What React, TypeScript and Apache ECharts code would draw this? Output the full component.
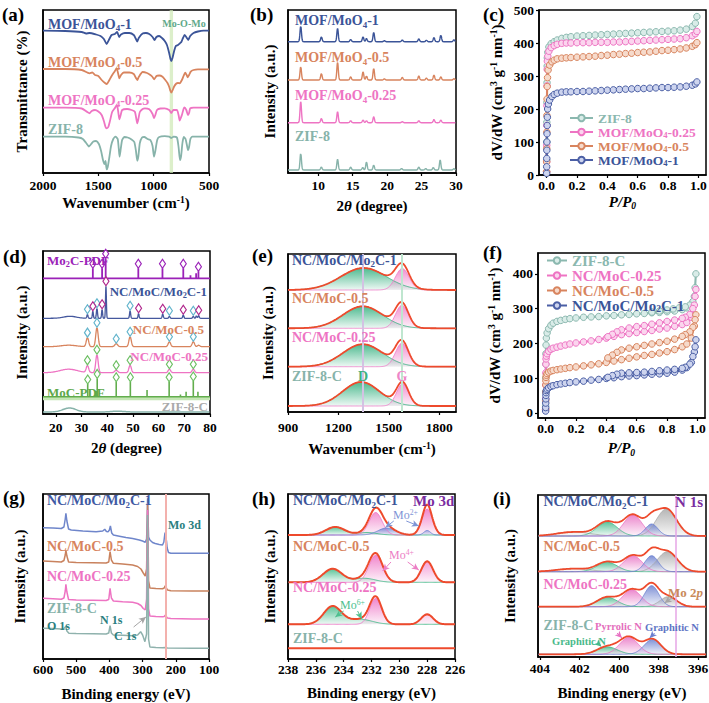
import React, { useEffect, useRef } from 'react';
import * as echarts from 'echarts';

const FONT = '"Liberation Serif", "Times New Roman", Times, serif';

const BLUE = '#3b5498';
const ORANGE = '#d8845e';
const PINK = '#ee74c3';
const TEAL = '#87b3aa';

// ---------------- (a) FTIR  [wavenumber, offset transmittance]
const ftir_MoO4_1 = [[2000,142.3],[1800,142],[1650,141],[1610,139.5],[1580,140],[1520,138.5],[1480,137],[1450,134],[1425,129],[1405,133],[1380,138],[1350,139],[1330,141],[1312,136],[1295,138.5],[1260,140],[1220,140],[1180,138],[1160,134],[1148,131.5],[1135,135],[1100,139.5],[1070,140],[1040,139],[1010,136],[992,133],[975,136],[950,137],[925,135],[900,132],[880,128],[860,120],[848,114],[840,112],[830,115],[815,122],[800,127],[780,128],[765,129.5],[750,131],[735,135],[720,138],[700,135],[688,133],[670,137],[640,140],[600,141.5],[550,142.3],[500,142.3]];
const ftir_MoO4_05 = [[2000,104],[1800,104],[1650,103],[1600,100.5],[1580,99.7],[1555,100.5],[1530,98],[1500,97],[1470,93],[1440,90],[1422,89],[1405,92],[1380,97],[1350,102],[1335,104.7],[1322,100],[1310,94.7],[1295,98],[1270,100.5],[1220,100.5],[1180,99],[1160,95],[1148,93],[1135,96],[1100,101],[1060,100],[1030,98],[1010,96],[995,93.7],[975,97],[950,97.5],[920,96.3],[895,93],[875,90],[860,86.3],[848,82],[840,80.3],[828,83],[815,86.5],[795,89.5],[780,90],[765,89.7],[745,93],[730,97],[715,100.3],[702,98],[692,95.7],[680,98],[665,101.3],[640,103],[600,103.7],[500,103.7]];
const ftir_MoO4_025 = [[2000,65.3],[1800,65.3],[1650,64.5],[1600,61],[1580,59.7],[1560,62],[1530,63],[1500,61.5],[1470,58],[1450,52],[1435,46],[1425,44.7],[1410,46],[1395,52],[1375,61],[1350,65],[1332,68],[1320,61],[1310,53.7],[1298,58],[1285,63],[1240,64],[1200,63],[1170,61.3],[1158,55],[1148,49.7],[1138,54],[1125,61],[1100,64],[1080,64.7],[1040,63.7],[1010,59],[997,54.7],[985,58],[970,63],[940,64.5],[900,64.7],[860,63],[840,60],[822,63],[790,63],[775,58],[765,52.3],[755,55],[745,58],[730,64],[722,65.7],[705,63],[690,58],[680,60],[670,64.7],[640,65.3],[500,65.3]];
const ftir_ZIF8 = [[2000,36.3],[1800,36.3],[1680,35.5],[1640,34],[1610,30],[1585,26.5],[1565,29],[1545,31.5],[1520,32],[1495,29],[1475,22],[1458,13],[1445,9],[1435,12],[1425,3.7],[1415,6],[1400,16],[1385,27],[1365,34],[1345,36.3],[1325,34],[1315,24],[1308,16.3],[1300,22],[1285,33],[1265,36],[1235,35.5],[1200,33.5],[1175,31],[1160,22],[1148,12.3],[1138,17],[1125,30],[1105,35.5],[1085,36],[1055,34],[1030,33],[1010,27],[997,16.3],[985,22],[968,33],[950,36],[900,36.8],[860,36.3],[840,35],[820,36.3],[790,35.5],[775,26],[762,13],[752,17],[740,30],[728,36],[712,34],[698,27],[690,23],[680,26],[668,34],[650,36.3],[600,36.3],[500,36.3]];
const ftir_MoOMo_band = [825, 855];

// ---------------- (b) XRD of precursors: peaks [2theta, height]
const xrdB_MoO4_1 = [[7.45,15.7],[10.45,5],[12.8,13.3],[14.7,2.3],[16.5,5],[17.0,3.3],[18.05,9.3],[19.6,1],[22.2,1.7],[24.6,3],[25.7,1.5],[26.8,4.3],[27.8,6.7],[29.7,2]];
const xrdB_MoO4_05 = [[7.45,13.3],[10.45,6.7],[12.8,17.7],[14.7,3.3],[16.5,8.3],[17.0,4],[18.05,11.7],[19.6,1.2],[22.2,2.7],[24.6,4],[25.7,2],[26.8,5],[27.8,3.3],[29.7,1.5]];
const xrdB_MoO4_025 = [[7.45,21],[10.45,4.3],[12.8,11],[14.7,2],[16.5,2.7],[17.0,2],[18.05,6],[22.2,1],[24.6,2],[26.8,3.3],[27.8,2.7]];
const xrdB_ZIF8 = [[7.45,16.7],[10.45,3],[12.8,10.7],[14.7,3],[16.45,2.5],[17.0,8],[18.05,5],[22.1,1.5],[24.6,3],[25.6,1.5],[26.7,2.5],[27.7,10],[29.7,1.5]];
const xrdB_offsets = [131.3, 93, 50.3, 3];

// ---------------- (c) isotherms [P/P0, value]
const isoC_ZIF8 = [[0.0003,10],[0.0006,45],[0.001,100],[0.0015,160],[0.002,220],[0.003,280],[0.004,330],[0.005,355],[0.008,372],[0.015,388],[0.03,398],[0.05,404],[0.07,409],[0.1,414],[0.13,417],[0.16,419],[0.2,421],[0.24,422],[0.28,423],[0.32,424],[0.36,425],[0.4,426],[0.44,427],[0.48,428],[0.52,429],[0.56,430],[0.6,431],[0.64,432],[0.68,433],[0.72,434],[0.76,435],[0.8,436],[0.84,437],[0.88,439],[0.92,442],[0.96,450],[0.98,460],[0.99,480]];
const isoC_MoO4_025 = [[0.0003,10],[0.0006,40],[0.001,90],[0.0015,150],[0.002,210],[0.003,270],[0.004,320],[0.005,345],[0.008,360],[0.015,375],[0.03,386],[0.05,392],[0.07,396],[0.1,399],[0.13,400],[0.16,400],[0.2,401],[0.24,401],[0.28,401],[0.32,402],[0.36,402],[0.4,402],[0.44,403],[0.48,403],[0.52,404],[0.56,405],[0.6,406],[0.64,407],[0.68,408],[0.72,409],[0.76,410],[0.8,411],[0.84,412],[0.88,413],[0.92,416],[0.96,422],[0.98,428],[0.99,435]];
const isoC_MoO4_05 = [[0.0003,10],[0.0006,40],[0.001,80],[0.0015,130],[0.002,180],[0.003,230],[0.004,268],[0.006,295],[0.01,318],[0.02,333],[0.035,343],[0.05,348],[0.07,352],[0.1,354],[0.13,355],[0.16,356],[0.2,357],[0.24,358],[0.28,359],[0.32,360],[0.36,362],[0.4,363],[0.44,365],[0.48,366],[0.52,368],[0.56,369],[0.6,371],[0.64,372],[0.68,373],[0.72,375],[0.76,377],[0.8,378],[0.84,380],[0.88,382],[0.92,385],[0.96,390],[0.98,395],[0.99,401]];
const isoC_MoO4_1 = [[0.0003,5],[0.0006,25],[0.001,50],[0.0015,75],[0.002,100],[0.003,125],[0.004,150],[0.005,175],[0.007,200],[0.012,215],[0.02,227],[0.035,238],[0.05,244],[0.07,248],[0.1,251],[0.13,252],[0.16,252],[0.2,253],[0.24,253],[0.28,254],[0.32,255],[0.36,256],[0.4,257],[0.44,258],[0.48,259],[0.52,260],[0.56,261],[0.6,262],[0.64,262],[0.68,263],[0.72,264],[0.76,265],[0.8,265],[0.84,266],[0.88,267],[0.92,269],[0.96,272],[0.98,276],[0.99,282]];

// ---------------- (d) XRD of carbides
const xrdD_Mo2C_PDF = [[34.4,10],[38.0,10],[39.4,20],[52.1,10],[61.5,10],[69.6,10],[72.4,3],[74.6,5],[75.5,7]];
const xrdD_Mo2C_PDF_marks = [34.4,38.0,39.4,52.1,61.5,69.6,75.5];
const xrdD_MoC_PDF = [[32.4,12.7],[35.5,5.7],[36.1,18.3],[43.5,15],[49.0,15],[55.5,6.7],[64.1,15],[68.5,2.3],[70.7,5],[73.5,15.7],[75.3,5]];
const xrdD_MoC_PDF_marks = [32.4,36.1,43.5,49.0,64.1,73.5];
// peaks [2theta, height, fwhm]
const xrdD_Mo2C1 = [[25.5,2,6],[32.3,4,0.5],[34.4,7,0.45],[36.0,10,0.5],[38.0,9,0.45],[39.5,32,0.4],[48.9,7.5,0.5],[52.2,5,0.45],[61.6,4.5,0.5],[64.2,2.5,0.5],[69.6,3.5,0.5],[73.5,2.5,0.5],[74.7,2.5,0.5],[75.6,3,0.5]];
const xrdD_Mo2C1_MoC_marks = [32.3,36.0,48.9,64.2,73.5];
const xrdD_Mo2C1_Mo2C_marks = [34.4,38.0,39.5,52.2,61.6,69.6,75.6];
const xrdD_MoC05 = [[25,1.5,7],[32.3,9,1.1],[36.0,19,1.1],[43.5,3,1.3],[48.9,10,1.1],[64.2,5,1.1],[73.5,5,1.1],[75.6,1.5,1]];
const xrdD_MoC025 = [[25,3.5,8],[32.3,7,1.1],[36.0,18,1.1],[43.5,2.5,1.3],[48.9,7.5,1.1],[64.2,3.5,1.1],[73.5,3.5,1.1]];
const xrdD_MoC_marks = [32.3,36.0,43.5,48.9,64.2,73.5];
const xrdD_ZIF8C = [[25.3,4,6],[44,0.8,6]];
const xrdD_offsets = { mo2cPdf: 135.7, mo2c1: 95.7, moc05: 67.3, moc025: 41.3, mocPdf: 17.3, zif8c: 2 };

// ---------------- (e) Raman fitted bands [center, height, fwhm]: D, G
const raman_Mo2C1 = [[1350,22,320],[1580,21.5,95]];
const raman_MoC05 = [[1345,22,280],[1578,23,90]];
const raman_MoC025 = [[1345,22.5,280],[1578,23.5,90]];
const raman_ZIF8C = [[1335,24,260],[1582,22.3,85]];
const raman_offsets = [122, 83.7, 45.3, 6];
const raman_DG = [1345, 1580];

// ---------------- (f) isotherms with hysteresis [P/P0, value]
const isoF_ZIF8C = [[0.0003,20],[0.0006,60],[0.001,100],[0.0015,140],[0.002,170],[0.003,195],[0.005,215],[0.01,230],[0.02,242],[0.035,252],[0.05,258],[0.075,263],[0.1,266],[0.13,269],[0.16,271],[0.2,273],[0.25,275],[0.3,276],[0.35,277],[0.4,279],[0.45,280],[0.5,282],[0.55,283],[0.6,285],[0.65,286],[0.7,288],[0.75,289],[0.8,291],[0.85,293],[0.9,297],[0.93,302],[0.96,312],[0.98,335],[0.99,400],[0.985,360],[0.97,320],[0.95,310],[0.92,305],[0.88,302],[0.84,299],[0.8,296],[0.75,293],[0.7,290]];
const isoF_MoC025 = [[0.0003,10],[0.0006,40],[0.001,80],[0.0015,115],[0.002,140],[0.003,155],[0.005,163],[0.01,170],[0.02,177],[0.035,183],[0.05,186],[0.075,189],[0.1,192],[0.13,195],[0.16,198],[0.2,201],[0.25,204],[0.3,207],[0.35,211],[0.4,215],[0.45,220],[0.5,225],[0.55,228],[0.6,231],[0.65,234],[0.7,237],[0.75,241],[0.8,244],[0.85,249],[0.9,254],[0.93,260],[0.96,275],[0.98,310],[0.99,355],[0.985,335],[0.97,300],[0.95,283],[0.92,275],[0.9,272],[0.85,267],[0.8,263],[0.75,259],[0.7,255],[0.65,251],[0.6,248],[0.55,244],[0.5,239],[0.47,233],[0.44,226],[0.41,219]];
const isoF_MoC05 = [[0.0003,10],[0.0006,35],[0.001,60],[0.0015,80],[0.002,92],[0.003,102],[0.005,108],[0.01,113],[0.02,117],[0.035,120],[0.05,122],[0.075,124],[0.1,126],[0.13,128],[0.16,130],[0.2,132],[0.25,135],[0.3,138],[0.35,141],[0.4,145],[0.45,149],[0.5,153],[0.55,157],[0.6,161],[0.65,165],[0.7,168],[0.75,172],[0.8,176],[0.85,182],[0.9,190],[0.93,198],[0.96,215],[0.98,250],[0.99,282],[0.985,268],[0.97,246],[0.95,233],[0.92,225],[0.9,220],[0.85,212],[0.8,206],[0.75,202],[0.7,198],[0.65,194],[0.6,190],[0.55,186],[0.5,181],[0.47,174],[0.44,166],[0.41,158]];
const isoF_Mo2C1 = [[0.0003,5],[0.0006,15],[0.001,28],[0.0015,40],[0.002,50],[0.003,58],[0.005,64],[0.01,68],[0.02,72],[0.035,76],[0.05,78],[0.075,81],[0.1,83],[0.13,85],[0.16,87],[0.2,89],[0.25,91],[0.3,94],[0.35,96],[0.4,99],[0.45,101],[0.5,104],[0.55,106],[0.6,107],[0.65,109],[0.7,111],[0.75,112],[0.8,114],[0.85,117],[0.9,123],[0.93,130],[0.96,145],[0.98,175],[0.99,210],[0.985,190],[0.97,162],[0.95,140],[0.92,131],[0.9,128],[0.85,125],[0.8,123],[0.75,121],[0.7,119],[0.65,117],[0.6,116],[0.55,115],[0.5,114],[0.47,111],[0.44,107],[0.41,102]];

// ---------------- (g) XPS survey [binding energy, offset intensity]
const survey_Mo2C1 = [[600,131.3],[570,131],[545,130.5],[537,132],[533,140],[531,145.7],[528,138],[523,130],[515,129],[480,128],[440,127.3],[420,128],[414,129.7],[409,127.5],[404,127.3],[400,129],[397,133],[393,126],[388,124],[370,122.8],[350,121.5],[330,120.5],[310,119],[300,118],[292,116.7],[288,120],[286,140],[285,160.7],[283.5,140],[282,122],[278,119],[270,116.5],[262,115.5],[250,114.5],[240,114],[236,117],[232.5,126.3],[230,122],[228,118],[226,111],[222,106.5],[215,105.7],[150,105.7],[100,105.7]];
const survey_MoC05 = [[600,98],[570,97.5],[545,97],[537,98.5],[533,104],[531,109],[528,103],[523,97],[500,96.5],[450,96.3],[410,96],[402,97],[398,107.3],[394,99],[388,95.7],[360,95],[330,94],[315,92.5],[305,90],[298,86],[292,83],[288,90],[286,130],[285,155.7],[283.5,120],[282,78],[278,71],[260,70.5],[240,70.2],[235,71],[232,73.3],[229,71.5],[225,69],[215,68.3],[150,68],[100,68]];
const survey_MoC025 = [[600,60.7],[570,60.2],[545,59.8],[537,61],[533,68],[531,74.7],[528,67],[523,59.5],[500,59],[450,58.8],[410,58.5],[402,59.5],[398,70.7],[394,61],[388,58],[360,57.3],[330,56.7],[315,55.5],[305,53.5],[298,50.5],[292,49],[288,60],[286,120],[285,149],[283.5,100],[282,50],[278,43],[260,42.5],[240,42.3],[235,42.6],[232,43.8],[229,42.5],[225,41],[215,40.5],[150,40],[100,40]];
const survey_ZIF8C = [[600,30.7],[570,30.5],[545,30],[537,30.5],[533,32],[531,32.5],[528,28],[522,25.7],[500,25.5],[450,25.3],[410,25],[402,26],[398,33.3],[394,26],[388,24],[360,23.7],[330,23.3],[315,24],[306,27.3],[300,24],[293,17.3],[288,25],[286,90],[285,144],[283.5,80],[282,20],[278,12],[260,11.5],[240,11.2],[232,11.5],[225,11],[150,10.7],[100,10.7]];
const survey_Mo3d_line = 230;

// ---------------- (h) Mo 3d fitted components [center, height, fwhm]
const mo3d_Mo2C1_Mo6 = [[234.6,8,1.6],[232.3,2.5,1.6]];
const mo3d_Mo2C1_Mo4 = [[231.7,22.5,1.1],[228.0,26,0.9]];
const mo3d_Mo2C1_Mo2 = [[230.9,7,1.5],[228.0,4.5,0.55]];
const mo3d_MoC05_Mo6 = [[234.8,13.5,1.6],[232.5,4,1.8]];
const mo3d_MoC05_Mo4 = [[231.7,27,1.15],[228.0,21,1.0]];
const mo3d_MoC025_Mo6 = [[234.8,18,1.5],[232.8,5,2.0]];
const mo3d_MoC025_Mo4 = [[231.7,26,1.0],[228.0,10,1.0]];
const mo3d_offsets = [124, 76.7, 34.7, 10.7];

// ---------------- (i) N 1s fitted components [center, height, fwhm]
const n1s_Mo2C1_mo2p = [[402.3,4,2.0],[397.6,27,1.2]];
const n1s_Mo2C1_gN = [[400.6,14,1.2]];
const n1s_Mo2C1_pyrN = [[399.3,21,1.1]];
const n1s_Mo2C1_bN = [[398.35,12,0.75]];
const n1s_MoC05_mo2p = [[402.3,3,2.0],[397.55,20,1.2]];
const n1s_MoC05_gN = [[400.6,9.5,1.2]];
const n1s_MoC05_pyrN = [[399.3,16,1.1]];
const n1s_MoC05_bN = [[398.35,16,0.8]];
const n1s_MoC025_mo2p = [[397.5,10,1.0]];
const n1s_MoC025_gN = [[400.6,9.5,1.2]];
const n1s_MoC025_pyrN = [[399.35,17,1.1]];
const n1s_MoC025_bN = [[398.35,21,0.85]];
const n1s_ZIF8C_gN = [[400.6,7.5,1.2]];
const n1s_ZIF8C_pyrN = [[399.5,17,1.1]];
const n1s_ZIF8C_bN = [[398.3,15,1.0]];
const n1s_offsets = [121, 85.3, 50.3, 2.7];
const n1s_Mo2p_line = 397.15;

// ================= helpers =================
const G4 = 4 * Math.LN2;
function gsum(x: number, peaks: number[][]) {
  let s = 0;
  for (const p of peaks) s += p[1] * Math.exp((-G4 * (x - p[0]) * (x - p[0])) / (p[2] * p[2]));
  return s;
}
function profile(x0: number, x1: number, step: number, base: number, peaks: number[][]) {
  const out: number[][] = [];
  const n = Math.round((x1 - x0) / step);
  for (let i = 0; i <= n; i++) {
    const x = x0 + i * step;
    out.push([+x.toFixed(4), +(base + gsum(x, peaks)).toFixed(3)]);
  }
  return out;
}
function sticks(x0: number, x1: number, base: number, list: number[][]) {
  const out: number[][] = [[x0, base]];
  [...list].sort((a, b) => a[0] - b[0]).forEach(([p, h]) => { out.push([p, base], [p, base + h], [p, base]); });
  out.push([x1, base]);
  return out;
}
function rgba(hex: string, a: number) {
  const n = parseInt(hex.slice(1), 16);
  return `rgba(${(n >> 16) & 255},${(n >> 8) & 255},${n & 255},${a})`;
}
function richFill(color: string, size: number, L: number, weight: string) {
  const b: any = { fontFamily: FONT, fontWeight: weight, fill: color };
  return {
    s: { ...b, fontSize: size * 0.64, lineHeight: Math.max(2, L - size * 0.5), verticalAlign: 'bottom' },
    p: { ...b, fontSize: size * 0.64, lineHeight: Math.max(2, L - size * 0.6), verticalAlign: 'top' },
    i: { ...b, fontSize: size, fontStyle: 'italic', lineHeight: L },
  };
}
function erich(size: number, L: number, withColor = true, subShift = 0.5) {
  const b: any = { fontFamily: FONT, fontWeight: 'bold' };
  if (withColor) b.color = '#000';
  return {
    p: { ...b, fontSize: size * 0.64, lineHeight: Math.max(2, L - size * 0.6), verticalAlign: 'top' },
    s: { ...b, fontSize: size * 0.64, lineHeight: Math.max(2, L - size * subShift), verticalAlign: 'bottom' },
    i: { ...b, fontSize: size, fontStyle: 'italic', lineHeight: L },
    is: { ...b, fontSize: size * 0.64, fontStyle: 'italic', lineHeight: Math.max(2, L - size * subShift), verticalAlign: 'bottom' },
  };
}
function txt(x: number, y: number, text: string, color: string, size = 14, align = 'left', weight = 'bold') {
  const L = Math.round(size * 1.2);
  return {
    type: 'text', x, y, silent: true, z: 100,
    style: {
      text, fill: color, fontFamily: FONT, fontWeight: weight, fontSize: size, lineHeight: L,
      align, verticalAlign: 'middle', textAlign: align, textVerticalAlign: 'middle',
      rich: richFill(color, size, L, weight),
    },
  };
}
function ln(gi: number, name: string, data: any[], color: string, width = 1.5, extra: any = {}) {
  return {
    type: 'line', name, xAxisIndex: gi, yAxisIndex: gi, data, symbol: 'none', showSymbol: false,
    lineStyle: { color, width }, itemStyle: { color }, silent: true, animation: false, z: 3, ...extra,
  };
}
function area(gi: number, name: string, data: any[], color: string, base: number, top = 0.85) {
  return ln(gi, name, data, color, 1, {
    z: 2,
    lineStyle: { color: rgba(color, 0.8), width: 1 },
    areaStyle: {
      origin: base, opacity: 1,
      color: new echarts.graphic.LinearGradient(0, 0, 0, 1, [
        { offset: 0, color: rgba(color, top) },
        { offset: 1, color: rgba(color, 0.08) },
      ]),
    },
  });
}
function iso(gi: number, name: string, data: any[], color: string, fill: string) {
  return {
    type: 'line', name, xAxisIndex: gi, yAxisIndex: gi, data, symbol: 'circle', symbolSize: 6.5, showSymbol: true,
    lineStyle: { color, width: 2 }, itemStyle: { color: fill, borderColor: color, borderWidth: 1 },
    silent: true, animation: false, z: 3,
  };
}
function diamonds(gi: number, name: string, pts: number[][], color: string) {
  return {
    type: 'scatter', name, xAxisIndex: gi, yAxisIndex: gi, data: pts, symbol: 'diamond', symbolSize: [6, 9],
    itemStyle: { color: '#fff', borderColor: color, borderWidth: 1.2, opacity: 1 }, silent: true, z: 6, animation: false,
  };
}
function arrows(list: any[]) {
  return {
    silent: true, animation: false, symbol: ['none', 'arrow'], symbolSize: [5, 7],
    label: { show: false }, emphasis: { disabled: true },
    lineStyle: { width: 1, type: 'solid', color: '#999' },
    data: list.map((a) => [{ coord: [a[0], a[1]], lineStyle: { color: a[4], width: 1, type: 'solid' } }, { coord: [a[2], a[3]] }]),
  };
}
function vlines(list: any[]) {
  return {
    silent: true, animation: false, symbol: ['none', 'none'], label: { show: false }, emphasis: { disabled: true },
    data: list.map((a) => ({ xAxis: a[0], lineStyle: { color: a[1], width: a[2] || 2, type: 'solid' } })),
  };
}

const GRIDS = [
  { left: 43, top: 10, width: 166, height: 163 },
  { left: 288, top: 10, width: 168, height: 163 },
  { left: 539, top: 10, width: 167, height: 165 },
  { left: 43, top: 251, width: 167, height: 163 },
  { left: 288, top: 254, width: 168, height: 158 },
  { left: 538, top: 253, width: 167, height: 165 },
  { left: 43, top: 494, width: 166, height: 165 },
  { left: 288, top: 494, width: 167, height: 165 },
  { left: 538, top: 495, width: 168, height: 162 },
];

const nameStyle = { fontFamily: FONT, fontWeight: 'bold', fontSize: 15, color: '#000', lineHeight: 18, rich: erich(15, 18) };

const plain = (v: number) => String(+v.toFixed(3));
const fmt1 = (v: number) => v.toFixed(1);

function xa(gi: number, o: any) {
  return {
    type: 'value', gridIndex: gi, min: o.min, max: o.max, interval: o.interval, inverse: !!o.inverse,
    name: o.name, nameLocation: 'middle', nameGap: o.nameGap, nameTextStyle: nameStyle,
    axisLine: { show: true, onZero: false, lineStyle: { color: '#000', width: 1.5 } },
    axisTick: { show: true, length: 3, lineStyle: { color: '#000', width: 1.2 } },
    axisLabel: {
      show: true, color: '#000', fontFamily: FONT, fontWeight: 'bold', fontSize: 13.5, margin: o.margin,
      showMinLabel: o.showMin, showMaxLabel: o.showMax, formatter: o.formatter || plain,
    },
    splitLine: { show: false },
  };
}
function ya(gi: number, o: any) {
  return {
    type: 'value', gridIndex: gi, min: o.min, max: o.max, interval: o.interval,
    name: o.name, nameLocation: 'middle', nameGap: o.nameGap, nameRotate: 90, nameTextStyle: nameStyle,
    axisLine: { show: true, onZero: false, lineStyle: { color: '#000', width: 1.5 } },
    axisTick: { show: !!o.labels, length: 3, lineStyle: { color: '#000', width: 1.2 } },
    axisLabel: {
      show: !!o.labels, color: '#000', fontFamily: FONT, fontWeight: 'bold', fontSize: 13.5, margin: 5,
      showMinLabel: o.showMin, showMaxLabel: o.showMax, formatter: plain,
    },
    splitLine: { show: false },
  };
}
const richName = (s: string) => s.replace('MoO4', 'MoO{s|4}').replace('Mo2C', 'Mo{s|2}C');

function buildOption() {
  const series: any[] = [];

  // (a)
  series.push(ln(0, 'FTIR MOF/MoO4-1', ftir_MoO4_1, BLUE, 1.8, {
    smooth: 0.2,
    markArea: { silent: true, itemStyle: { color: 'rgba(205,232,180,0.7)' }, data: [[{ xAxis: ftir_MoOMo_band[0] }, { xAxis: ftir_MoOMo_band[1] }]] },
  }));
  series.push(ln(0, 'FTIR MOF/MoO4-0.5', ftir_MoO4_05, ORANGE, 1.8, { smooth: 0.2 }));
  series.push(ln(0, 'FTIR MOF/MoO4-0.25', ftir_MoO4_025, PINK, 1.8, { smooth: 0.2 }));
  series.push(ln(0, 'FTIR ZIF-8', ftir_ZIF8, TEAL, 1.8, { smooth: 0.2 }));

  // (b)
  const bSets = [xrdB_MoO4_1, xrdB_MoO4_05, xrdB_MoO4_025, xrdB_ZIF8];
  const bCols = [BLUE, ORANGE, PINK, TEAL];
  bSets.forEach((pk, k) => {
    const peaks = pk.map((p) => [p[0], p[1], 0.25]);
    series.push(ln(1, 'XRD-b ' + k, profile(5.6, 30, 0.02, xrdB_offsets[k], peaks), bCols[k], 1.4));
  });

  // (c)
  series.push(iso(2, 'ZIF-8', isoC_ZIF8, '#8bb8af', '#d9ece8'));
  series.push(iso(2, 'MOF/MoO4-0.25', isoC_MoO4_025, PINK, '#fbd5ee'));
  series.push(iso(2, 'MOF/MoO4-0.5', isoC_MoO4_05, ORANGE, '#f6dacb'));
  series.push(iso(2, 'MOF/MoO4-1', isoC_MoO4_1, '#4b5fa5', '#cdd4ee'));

  // (d)
  const o = xrdD_offsets;
  series.push(ln(3, 'Mo2C PDF sticks', sticks(15, 80, o.mo2cPdf, xrdD_Mo2C_PDF), '#9b22b8', 1.8));
  series.push(ln(3, 'XRD-d Mo2C-1', profile(15, 80, 0.05, o.mo2c1, xrdD_Mo2C1), '#45589e', 1.3));
  series.push(ln(3, 'XRD-d MoC-0.5', profile(15, 80, 0.05, o.moc05, xrdD_MoC05), ORANGE, 1.3));
  series.push(ln(3, 'XRD-d MoC-0.25', profile(15, 80, 0.05, o.moc025, xrdD_MoC025), PINK, 1.3));
  series.push(ln(3, 'MoC PDF band', [[15, o.mocPdf - 1.5], [80, o.mocPdf - 1.5]], '#c4e6b4', 4, { z: 1 }));
  series.push(ln(3, 'MoC PDF sticks', sticks(15, 80, o.mocPdf, xrdD_MoC_PDF), '#62ad4d', 1.6));
  series.push(ln(3, 'XRD-d ZIF-8-C', profile(15, 80, 0.1, o.zif8c, xrdD_ZIF8C), TEAL, 1.5));
  const stickTop = (list: number[][], base: number, marks: number[]) =>
    marks.map((m) => { const s = list.find((q) => q[0] === m); return [m, base + (s ? s[1] : 0) + 4.5]; });
  const curveTop = (peaks: number[][], base: number, marks: number[]) => marks.map((m) => [m, base + gsum(m, peaks) + 5]);
  series.push(diamonds(3, 'dia Mo2C PDF', stickTop(xrdD_Mo2C_PDF, o.mo2cPdf, xrdD_Mo2C_PDF_marks), '#9b22b8'));
  series.push(diamonds(3, 'dia Mo2C-1 MoC', curveTop(xrdD_Mo2C1, o.mo2c1, xrdD_Mo2C1_MoC_marks), '#62b4cc'));
  series.push(diamonds(3, 'dia Mo2C-1 Mo2C', curveTop(xrdD_Mo2C1, o.mo2c1, xrdD_Mo2C1_Mo2C_marks), '#b0268c'));
  series.push(diamonds(3, 'dia MoC-0.5', curveTop(xrdD_MoC05, o.moc05, xrdD_MoC_marks), '#62b4cc'));
  series.push(diamonds(3, 'dia MoC-0.25', curveTop(xrdD_MoC025, o.moc025, xrdD_MoC_marks), '#6cbf62'));
  series.push(diamonds(3, 'dia MoC PDF', stickTop(xrdD_MoC_PDF, o.mocPdf, xrdD_MoC_PDF_marks), '#6cbf62'));

  // (e)
  const rSets = [raman_Mo2C1, raman_MoC05, raman_MoC025, raman_ZIF8C];
  rSets.forEach((pk, k) => {
    const b = raman_offsets[k];
    const dS: any = area(4, 'Raman D ' + k, profile(900, 1900, 5, b, [pk[0]]), '#2fae7c', b);
    if (k === 0) dS.markLine = vlines([[raman_DG[0], '#d3c2e3', 2], [raman_DG[1], '#bfe6cf', 2]]);
    series.push(dS);
    series.push(area(4, 'Raman G ' + k, profile(900, 1900, 5, b, [pk[1]]), '#ef7cc8', b));
    series.push(ln(4, 'Raman fit ' + k, profile(900, 1900, 5, b, pk), '#ee4a2c', 1.8, { z: 4 }));
  });

  // (f)
  series.push(iso(5, 'ZIF-8-C', isoF_ZIF8C, '#8bb8af', '#d9ece8'));
  series.push(iso(5, 'NC/MoC-0.25', isoF_MoC025, PINK, '#fbd5ee'));
  series.push(iso(5, 'NC/MoC-0.5', isoF_MoC05, ORANGE, '#f6dacb'));
  series.push(iso(5, 'NC/MoC/Mo2C-1', isoF_Mo2C1, '#4b5fa5', '#cdd4ee'));

  // (g)
  series.push(ln(6, 'Survey Mo2C-1', survey_Mo2C1, '#6f86cb', 1.5, { markLine: vlines([[survey_Mo3d_line, '#f3b1ad', 2]]) }));
  series.push(ln(6, 'Survey MoC-0.5', survey_MoC05, '#c9825e', 1.5));
  series.push(ln(6, 'Survey MoC-0.25', survey_MoC025, PINK, 1.5));
  series.push(ln(6, 'Survey ZIF-8-C', survey_ZIF8C, '#8fb2ad', 1.5, { markLine: arrows([[327, 32, 290, 42, '#a5a5a5']]) }));

  // (h)
  const GREEN = '#3db885', PNK = '#ee72c4', BLU = '#6b82d2';
  const hSets = [
    [[mo3d_Mo2C1_Mo6, GREEN], [mo3d_Mo2C1_Mo4, PNK], [mo3d_Mo2C1_Mo2, BLU]],
    [[mo3d_MoC05_Mo6, GREEN], [mo3d_MoC05_Mo4, PNK]],
    [[mo3d_MoC025_Mo6, GREEN], [mo3d_MoC025_Mo4, PNK]],
  ];
  hSets.forEach((comps: any[], k) => {
    const b = mo3d_offsets[k];
    let all: number[][] = [];
    comps.forEach(([pk, col], j) => {
      all = all.concat(pk);
      series.push(area(7, 'Mo3d comp ' + k + '-' + j, profile(226, 238, 0.04, b, pk), col, b));
    });
    series.push(ln(7, 'Mo3d fit ' + k, profile(226, 238, 0.04, b, all), '#ee4a2c', 2, { z: 4 }));
  });
  series.push(ln(7, 'Mo3d fit ZIF-8-C', [[226, mo3d_offsets[3]], [238, mo3d_offsets[3]]], '#ee4a2c', 2, {
    z: 4,
    markLine: arrows([
      [230.4, 138, 231.0, 131.5, '#7f95d6'], [229.5, 138, 228.6, 133, '#7f95d6'],
      [230.6, 97, 231.2, 88, '#ec7ec5'], [229.4, 97, 228.6, 89, '#ec7ec5'],
      [234.0, 48, 234.6, 42, '#4fbf8f'], [233.0, 48, 232.7, 40, '#4fbf8f'],
    ]),
  }));

  // (i)
  const GRY = '#a9a9a9', GRN = '#45b98a', PK2 = '#e873c4', BL2 = '#6a7fcf';
  const iSets = [
    [[n1s_Mo2C1_mo2p, GRY], [n1s_Mo2C1_gN, GRN], [n1s_Mo2C1_pyrN, PK2], [n1s_Mo2C1_bN, BL2]],
    [[n1s_MoC05_mo2p, GRY], [n1s_MoC05_gN, GRN], [n1s_MoC05_pyrN, PK2], [n1s_MoC05_bN, BL2]],
    [[n1s_MoC025_mo2p, GRY], [n1s_MoC025_gN, GRN], [n1s_MoC025_pyrN, PK2], [n1s_MoC025_bN, BL2]],
    [[n1s_ZIF8C_gN, GRN], [n1s_ZIF8C_pyrN, PK2], [n1s_ZIF8C_bN, BL2]],
  ];
  iSets.forEach((comps: any[], k) => {
    const b = n1s_offsets[k];
    let all: number[][] = [];
    comps.forEach(([pk, col], j) => {
      all = all.concat(pk);
      series.push(area(8, 'N1s comp ' + k + '-' + j, profile(395.6, 404.1, 0.03, b, pk), col, b));
    });
    const extra: any = { z: 4 };
    if (k === 0) extra.markLine = vlines([[n1s_Mo2p_line, '#e6a6e6', 1.5]]);
    if (k === 3) extra.markLine = arrows([
      [397.25, 60, 397.7, 54, '#a5a5a5'],
      [400.1, 24, 399.85, 19, PK2],
      [398.2, 24, 398.45, 19, BL2],
      [401.1, 14, 400.9, 10.5, GRN],
    ]);
    series.push(ln(8, 'N1s fit ' + k, profile(395.6, 404.1, 0.03, b, all), '#ee4a2c', 1.8, extra));
  });

  const xAxis = [
    xa(0, { min: 500, max: 2000, interval: 500, inverse: true, name: 'Wavenumber (cm{p|-1})', nameGap: 21, margin: 5 }),
    xa(1, { min: 5.6, max: 30, name: '2{i|θ} (degree)', nameGap: 24, margin: 5, showMin: false }),
    xa(2, { min: -0.05, max: 1.05, name: '{i|P/P}{is|0}', nameGap: 16, margin: 3, showMin: false, showMax: false, formatter: fmt1 }),
    xa(3, { min: 15, max: 80, name: '2{i|θ} (degree)', nameGap: 25, margin: 6, showMin: false }),
    xa(4, { min: 900, max: 1900, interval: 300, name: 'Wavenumber (cm{p|-1})', nameGap: 28, margin: 8, showMax: false }),
    xa(5, { min: -0.05, max: 1.05, name: '{i|P/P}{is|0}', nameGap: 21, margin: 3, showMin: false, showMax: false, formatter: fmt1 }),
    xa(6, { min: 100, max: 600, interval: 100, inverse: true, name: 'Binding energy (eV)', nameGap: 26, margin: 3 }),
    xa(7, { min: 226, max: 238, interval: 2, inverse: true, name: 'Binding energy (eV)', nameGap: 25, margin: 3 }),
    xa(8, { min: 395.6, max: 404.1, inverse: true, name: 'Binding energy (eV)', nameGap: 27, margin: 4, showMin: false, showMax: false }),
  ];
  const yAxis = [
    ya(0, { min: 0, max: 163, name: 'Transmittance (%)', nameGap: 12 }),
    ya(1, { min: 0, max: 163, name: 'Intensity (a.u.)', nameGap: 9 }),
    ya(2, { min: 0, max: 500, interval: 100, labels: true, name: 'dV/dW (cm{p|3} g{p|-1} nm{p|-1})', nameGap: 33 }),
    ya(3, { min: 0, max: 163, name: 'Intensity (a.u.)', nameGap: 12 }),
    ya(4, { min: 0, max: 158, name: 'Intensity (a.u.)', nameGap: 11 }),
    ya(5, { min: -15, max: 460, labels: true, showMin: false, showMax: false, name: 'dV/dW (cm{p|3} g{p|-1} nm{p|-1})', nameGap: 34 }),
    ya(6, { min: 0, max: 165, name: 'Intensity (a.u.)', nameGap: 14 }),
    ya(7, { min: 0, max: 165, name: 'Intensity (a.u.)', nameGap: 9 }),
    ya(8, { min: 0, max: 162, name: 'Intensity (a.u.)', nameGap: 19 }),
  ];

  const legendCommon = (size: number, gap: number) => ({
    orient: 'vertical', itemGap: gap, itemHeight: 8, selectedMode: false, padding: 0,
    textStyle: { fontFamily: FONT, fontWeight: 'bold', fontSize: size, rich: erich(size, size * 1.2, false, 0.35) },
    formatter: richName,
  });
  const legend = [
    {
      ...legendCommon(13.5, 0), left: 569, top: 111, itemWidth: 23,
      data: [
        { name: 'ZIF-8', textStyle: { color: '#8bb8af' } },
        { name: 'MOF/MoO4-0.25', textStyle: { color: PINK } },
        { name: 'MOF/MoO4-0.5', textStyle: { color: ORANGE } },
        { name: 'MOF/MoO4-1', textStyle: { color: BLUE } },
      ],
    },
    {
      ...legendCommon(15, 0), left: 546, top: 253, itemWidth: 20,
      data: [
        { name: 'ZIF-8-C', textStyle: { color: '#8bb8af' } },
        { name: 'NC/MoC-0.25', textStyle: { color: PINK } },
        { name: 'NC/MoC-0.5', textStyle: { color: ORANGE } },
        { name: 'NC/MoC/Mo2C-1', textStyle: { color: BLUE } },
      ],
    },
  ];

  const graphic = [
    txt(2, 14, '(a)', '#000', 19), txt(250, 14, '(b)', '#000', 19), txt(483, 14, '(c)', '#000', 19),
    txt(3, 256.5, '(d)', '#000', 19), txt(252, 255, '(e)', '#000', 19), txt(483, 252, '(f)', '#000', 19),
    txt(3, 497, '(g)', '#000', 19), txt(252, 498, '(h)', '#000', 19), txt(493, 498, '(i)', '#000', 19),
    // (a)
    txt(48, 24, 'MOF/MoO{s|4}-1', BLUE, 14), txt(48, 62.5, 'MOF/MoO{s|4}-0.5', ORANGE, 14),
    txt(48, 100, 'MOF/MoO{s|4}-0.25', PINK, 14), txt(48, 129, 'ZIF-8', TEAL, 14),
    txt(184, 23, 'Mo-O-Mo', '#5fa98a', 10, 'center'),
    // (b)
    txt(295, 20.5, 'MOF/MoO{s|4}-1', BLUE, 14), txt(295, 57.5, 'MOF/MoO{s|4}-0.5', ORANGE, 14),
    txt(295, 95.5, 'MOF/MoO{s|4}-0.25', PINK, 14), txt(295, 136.7, 'ZIF-8', TEAL, 14),
    // (d)
    txt(47, 260, 'Mo{s|2}C-PDF', '#9b22b8', 13), txt(207, 291, 'NC/MoC/Mo{s|2}C-1', BLUE, 13, 'right'),
    txt(204, 329.3, 'NC/MoC-0.5', ORANGE, 13, 'right'), txt(208, 356.7, 'NC/MoC-0.25', PINK, 13, 'right'),
    txt(47, 392.5, 'MoC-PDF', '#5ea84a', 13), txt(208, 406.7, 'ZIF-8-C', '#aaaaaa', 13, 'right'),
    // (e)
    txt(292, 260, 'NC/MoC/Mo{s|2}C-1', BLUE, 14), txt(292, 298.3, 'NC/MoC-0.5', ORANGE, 14),
    txt(292, 337.3, 'NC/MoC-0.25', PINK, 14), txt(292, 376.7, 'ZIF-8-C', TEAL, 14),
    txt(363, 376.7, 'D', '#3fb07f', 14, 'center'), txt(402, 376.7, 'G', '#ee86c8', 14, 'center'),
    // (g)
    txt(47, 500.7, 'NC/MoC/Mo{s|2}C-1', '#3f5aa3', 14), txt(168, 525, 'Mo 3d', '#2b7f7f', 12),
    txt(47, 546.7, 'NC/MoC-0.5', ORANGE, 14), txt(47, 576.3, 'NC/MoC-0.25', PINK, 14),
    txt(47, 608.5, 'ZIF-8-C', TEAL, 14), txt(47, 626, 'O 1s', '#2b7f7f', 12),
    txt(100, 620, 'N 1s', '#2b7f7f', 12), txt(114, 636, 'C 1s', '#2b7f7f', 12),
    // (h)
    txt(293, 500.7, 'NC/MoC/Mo{s|2}C-1', BLUE, 14), txt(413, 500.7, 'Mo 3d', '#7b2da0', 15),
    txt(293, 546.7, 'NC/MoC-0.5', ORANGE, 14), txt(293, 587.5, 'NC/MoC-0.25', PINK, 14),
    txt(293, 638.3, 'ZIF-8-C', TEAL, 14),
    txt(393, 515, 'Mo{p|2+}', '#7f95d6', 12, 'left', 'normal'),
    txt(389, 555, 'Mo{p|4+}', '#ec7ec5', 12, 'left', 'normal'),
    txt(340, 605, 'Mo{p|6+}', '#4fbf8f', 12, 'left', 'normal'),
    // (i)
    txt(543.5, 501.7, 'NC/MoC/Mo{s|2}C-1', BLUE, 14), txt(703, 501.7, 'N 1s', '#7b2da0', 15, 'right'),
    txt(543.5, 546.3, 'NC/MoC-0.5', ORANGE, 14), txt(543.5, 584, 'NC/MoC-0.25', PINK, 14),
    txt(703, 592.5, 'Mo 2{i|p}', '#c98a5a', 13, 'right'), txt(543.5, 625.5, 'ZIF-8-C', TEAL, 14),
    txt(595, 626, 'Pyrrolic N', '#e46fbd', 10.5), txt(645, 627, 'Graphitic N', '#6075c5', 10.5),
    txt(552, 641, 'Graphitic N', '#49b98a', 10.5),
  ];

  return {
    animation: false,
    backgroundColor: '#ffffff',
    textStyle: { fontFamily: FONT },
    grid: GRIDS.map((g) => ({ ...g, show: true, borderColor: '#000', borderWidth: 1.5, backgroundColor: 'transparent', containLabel: false, outerBoundsMode: 'none' })),
    xAxis, yAxis, legend, series, graphic,
  };
}

export default function App() {
  const ref = useRef<HTMLDivElement | null>(null);
  useEffect(() => {
    if (!ref.current) return;
    const chart = echarts.init(ref.current, null, { renderer: 'svg' });
    chart.setOption(buildOption() as any);
    return () => chart.dispose();
  }, []);
  return <div ref={ref} style={{ position: 'fixed', left: 0, top: 0, width: 709, height: 703, background: '#ffffff' }} />;
}
